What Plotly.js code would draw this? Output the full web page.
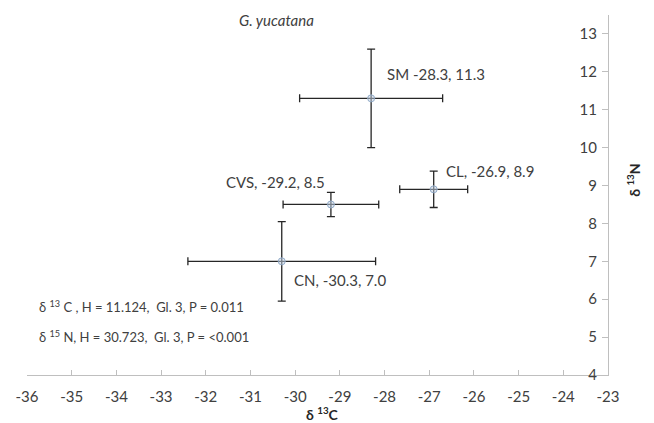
<!DOCTYPE html>
<html>
<head>
<meta charset="utf-8">
<script src="https://cdn.plot.ly/plotly-3.0.1.min.js"></script>
<style>
  html, body { margin: 0; padding: 0; background: #fff; }
  #chart { width: 654px; height: 423px; }
</style>
</head>
<body>
<div id="chart"></div>
<script>
// Site means of stable isotopes with standard deviations
const sites = ['SM', 'CL', 'CVS', 'CN'];
const labelPrefix = ['SM ', 'CL, ', 'CVS, ', 'CN, '];
const d13C = [-28.3, -26.9, -29.2, -30.3];
const d15N = [11.3, 8.9, 8.5, 7.0];
const sdC = [1.6, 0.76, 1.07, 2.1];
const sdN = [1.3, 0.48, 0.32, 1.05];

// Axis tick values (labels written with a plain hyphen)
const xTicks = [-36, -35, -34, -33, -32, -31, -30, -29, -28, -27, -26, -25, -24, -23];
const yTicks = [4, 5, 6, 7, 8, 9, 10, 11, 12, 13];

// Kruskal-Wallis results
const statLines = [
  'δ <sup>13</sup> C , H = 11.124,  Gl. 3, P = 0.011',
  'δ <sup>15</sup> N, H = 30.723,  Gl. 3, P = <0.001'
];

// Label placement per site (pixel offsets)
const labelAnchor = ['left', 'left', 'right', 'left'];
const labelDx = [14, 10, -4, 10];
const labelDy = [24, 18, 22, -19];

const FONT = 'Lato, "Open Sans", sans-serif';
const TXT = '#404040';

const trace = {
  type: 'scatter',
  mode: 'markers',
  x: d13C,
  y: d15N,
  text: sites,
  marker: {
    symbol: 'circle',
    size: 7,
    color: 'rgba(195,212,232,0.5)',
    line: { color: '#93acc9', width: 1 }
  },
  error_x: { type: 'data', array: sdC, visible: true, color: '#262626', thickness: 1.3, width: 4 },
  error_y: { type: 'data', array: sdN, visible: true, color: '#262626', thickness: 1.3, width: 4 },
  hoverinfo: 'x+y+text',
  showlegend: false
};

const annotations = [];
sites.forEach((s, i) => {
  annotations.push({
    xref: 'x', yref: 'y',
    x: d13C[i], y: d15N[i],
    text: labelPrefix[i] + d13C[i].toFixed(1) + ', ' + d15N[i].toFixed(1),
    showarrow: false,
    xanchor: labelAnchor[i], yanchor: 'middle',
    xshift: labelDx[i], yshift: labelDy[i],
    font: { family: FONT, size: 15, color: TXT }
  });
});

statLines.forEach((t, i) => {
  annotations.push({
    xref: 'paper', yref: 'paper',
    x: 0.017, y: [0.189, 0.106][i],
    text: t,
    showarrow: false,
    xanchor: 'left', yanchor: 'middle',
    font: { family: FONT, size: 13, color: TXT }
  });
});

// Chart title
annotations.push({
  xref: 'paper', yref: 'paper', x: 0.43, y: 0.986,
  text: '<i>G. yucatana</i>', showarrow: false,
  xanchor: 'center', yanchor: 'middle',
  font: { family: FONT, size: 15, color: TXT }
});

// Axis titles
annotations.push({
  xref: 'paper', yref: 'paper', x: 0.509, y: -0.106,
  text: '<b>δ <sup>13</sup>C</b>', showarrow: false,
  xanchor: 'center', yanchor: 'middle',
  font: { family: FONT, size: 14, color: '#262626' }
});
annotations.push({
  xref: 'paper', yref: 'paper', x: 1.0447, y: 0.542,
  text: '<b>δ <sup>13</sup>N</b>', showarrow: false, textangle: -90,
  xanchor: 'center', yanchor: 'middle',
  font: { family: FONT, size: 14, color: '#262626' }
});

const layout = {
  width: 654, height: 423,
  margin: { l: 27, r: 46, t: 15, b: 48 },
  paper_bgcolor: '#fff', plot_bgcolor: '#fff',
  font: { family: FONT, color: TXT },
  xaxis: {
    range: [-36, -23],
    tickmode: 'array', tickvals: xTicks, ticktext: xTicks.map(String),
    showgrid: false, zeroline: false,
    showline: true, linecolor: '#bfbfbf', linewidth: 1,
    ticks: 'inside', ticklen: 5, tickcolor: '#bfbfbf',
    ticklabelstandoff: 8,
    ticklabeloverflow: 'allow',
    tickfont: { family: FONT, size: 15, color: TXT }
  },
  yaxis: {
    side: 'right',
    range: [4, 13.5],
    tickmode: 'array', tickvals: yTicks, ticktext: yTicks.map(String),
    showgrid: false, zeroline: false,
    showline: true, linecolor: '#bfbfbf', linewidth: 1,
    ticks: 'inside', ticklen: 6, tickcolor: '#bfbfbf',
    ticklabelposition: 'inside',
    ticklabelstandoff: 5,
    ticklabeloverflow: 'allow',
    tickfont: { family: FONT, size: 15, color: TXT }
  },
  annotations: annotations
};

Plotly.newPlot('chart', [trace], layout, { displayModeBar: false, staticPlot: true });
</script>
</body>
</html>
